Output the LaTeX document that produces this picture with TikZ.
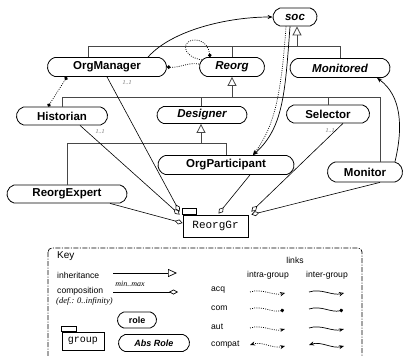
\documentclass[tikz,border=0pt]{standalone}
\usepackage{fontspec}
\setmainfont{Liberation Sans}
\setmonofont{Liberation Mono}
\newfontfamily\ltimes{Liberation Serif}
\usetikzlibrary{arrows.meta,shapes.misc}

\begin{document}
\begin{tikzpicture}[x=1pt,y=-1pt,
  role/.style={draw, line width=0.8pt, rounded rectangle, rounded rectangle arc length=150,
    inner sep=0pt, minimum height=19pt, font=\fontsize{11.5}{13}\selectfont\bfseries},
  absrole/.style={role, font=\fontsize{11.5}{13}\selectfont\bfseries\itshape},
  grp/.style={draw, line width=0.8pt, inner sep=0pt, fill=white,
    font=\fontsize{11}{13}\selectfont\ttfamily},
  hier/.style={draw=black!72, line width=0.9pt},
  inh/.style={hier, -{Triangle[open,length=9pt,width=9pt,line width=0.8pt]}},
  comp/.style={line width=0.6pt, -{Diamond[open,length=8pt,width=5pt,line width=0.6pt]}},
  mult/.style={font=\fontsize{6}{7}\selectfont\ltimes\itshape, text=black!60, inner sep=0pt},
  inter/.style={line width=0.7pt},
  intra/.style={line width=0.7pt, dash pattern=on 0.9pt off 1.3pt},
  keytext/.style={font=\fontsize{8.6}{10}\selectfont, inner sep=0pt},
  keyital/.style={font=\fontsize{8.5}{10}\selectfont\ltimes\itshape, inner sep=0pt},
  tipacq/.tip={Stealth[open,length=5pt,width=4.5pt,line width=0.6pt]},
  tipaut/.tip={Stealth[length=5pt,width=3.5pt]},
  tipcom/.tip={Circle[length=3.6pt]},
  tipcpt/.tip={Stealth[length=5pt,width=4pt]},
]
\useasboundingbox[fill=white] (0,0) rectangle (403,355);

% ---------- roles ----------
\node[absrole, minimum width=44pt, minimum height=18pt] (soc) at (295,17) {soc};
\node[role, minimum width=119pt] (OrgManager) at (107,67) {OrgManager};
\node[absrole, minimum width=65pt] (Reorg) at (232,67) {Reorg};
\node[absrole, minimum width=100pt] (Monitored) at (340,68) {Monitored};
\node[role, minimum width=91pt, minimum height=18pt] (Historian) at (62,116) {Historian};
\node[absrole, minimum width=90pt, minimum height=17pt] (Designer) at (202,115) {Designer};
\node[role, minimum width=83pt, minimum height=18pt] (Selector) at (328,114) {Selector};
\node[role, minimum width=136pt] (OrgParticipant) at (226,165) {OrgParticipant};
\node[role, minimum width=75pt, minimum height=20pt] (Monitor) at (365,172) {Monitor};
\node[role, minimum width=120pt, minimum height=18pt] (ReorgExpert) at (67,194) {ReorgExpert};

% ---------- group ----------
\node[grp, minimum width=65pt, minimum height=22pt] (ReorgGr) at (215.5,226) {ReorgGr};
\draw[line width=0.7pt, fill=white] (ReorgGr.north west) rectangle ++(14,-6);

% ---------- inheritance ----------
\coordinate (socbar) at (297,46);
\coordinate (reorgbar) at (232,97);
\coordinate (designbar) at (201,143);
\draw[hier] ([xshift=-19pt]OrgManager.north) |- (socbar);
\draw[hier] (Reorg.north) |- (socbar);
\draw[hier] (Monitored.north) |- (socbar);
\draw[inh] (socbar) -- ([xshift=2pt]soc.south);

\draw[hier] (Historian.north) |- (reorgbar);
\draw[hier] ([xshift=-1pt]Designer.north) |- (reorgbar);
\draw[hier] (Selector.north) |- (reorgbar);
\draw[hier] ([xshift=15pt]Monitor.north) |- (reorgbar);
\draw[inh] (reorgbar) -- (Reorg.south);

\draw[hier] (ReorgExpert.north) |- (designbar);
\draw[hier] (OrgParticipant.north) |- (designbar);
\draw[inh] (designbar) -- ([xshift=-1pt]Designer.south);

% ---------- composition into the group ----------
\draw[comp] (OrgManager.south) -- ([xshift=-3pt,yshift=3pt]ReorgGr.north west);
\draw[comp] ([xshift=18pt]Historian.south) -- ([xshift=-3pt,yshift=0pt]ReorgGr.north west);
\draw[comp] ([xshift=43pt]ReorgExpert.south) -- ([yshift=3pt]ReorgGr.west);
\draw[comp] ([xshift=24pt]OrgParticipant.south) -- ([xshift=3pt,yshift=1pt]ReorgGr.north);
\draw[comp] ([xshift=15pt]Selector.south) -- ([xshift=3pt,yshift=3pt]ReorgGr.north east);
\draw[comp] ([xshift=15pt]Monitor.south) -- ([xshift=3pt,yshift=0pt]ReorgGr.north east);

\node[mult] (m1) at (127,83) {1..1};
\node[mult] (m2) at (100,132) {1..1};
\node[mult] (m3) at (330,131) {1..1};

% ---------- links ----------
\draw[inter, -tipcpt] ([xshift=41pt]OrgManager.north) .. controls (172,30) and (228,17) .. (soc.west);
\draw[intra, -tipcom] ([xshift=-30pt,yshift=7pt]Reorg.center) .. controls (180,56) and (182,39) .. (196,40)
  .. controls (205,41) and (209,48) .. ([xshift=-22pt]Reorg.north);
\draw[intra, -tipcom] ([yshift=3pt]Reorg.west) .. controls (188,62) and (180,68) .. (OrgManager.east);
\draw[intra, tipcom-tipcom] ([xshift=-40pt]OrgManager.south) -- ([xshift=-14pt]Historian.north);
\draw[inter, -tipcpt] ([xshift=-5pt]soc.south) .. controls (285,95) and (283,128) .. ([xshift=27pt]OrgParticipant.north);
\draw[intra, -tipcpt] ([xshift=-9pt]soc.south) .. controls (281,100) and (273,128) .. ([xshift=27pt]OrgParticipant.north);
\draw[inter, -tipcpt] ([xshift=30pt]Monitor.north) .. controls (403,128) and (402,96) .. ([xshift=37pt]Monitored.south);

% ---------- key ----------
\draw[line width=0.7pt, dash pattern=on 5pt off 1.5pt on 1pt off 1.5pt, rounded corners=4pt]
  (48,248) rectangle (362,368);
\node[keytext, anchor=west, font=\fontsize{10}{12}\selectfont] (keyt) at (57,256) {Key};
\node[keytext] (links) at (295,260) {links};
\node[keytext] (intrat) at (268,275) {intra-group};
\node[keytext] (intert) at (327,275) {inter-group};

\node[keytext, anchor=west] (inht) at (57,275) {inheritance};
\coordinate (inhA) at (113,273);
\coordinate (inhB) at (177,273);
\draw[line width=0.7pt, -{Triangle[open,length=9pt,width=8pt,line width=0.7pt]}] (inhA) -- (inhB);

\node[keytext, anchor=west] (compt) at (57,291) {composition};
\node[keyital, anchor=west] (deft) at (56,301) {(def.: 0..infinity)};
\node[keyital, font=\fontsize{8}{10}\selectfont\ltimes\itshape] (mmt) at (130,284) {min..max};
\coordinate (compA) at (113,292);
\coordinate (compB) at (178,292);
\draw[line width=0.7pt, -{Diamond[open,length=9pt,width=5pt,line width=0.7pt]}] (compA) -- (compB);

\node[grp, minimum width=42pt, minimum height=18pt, font=\fontsize{10}{12}\selectfont\ttfamily] (grpkey) at (83,341) {group};
\draw[line width=0.7pt] (grpkey.north west) rectangle ++(15,-5);

\node[role, minimum width=39pt, minimum height=16pt, font=\fontsize{9}{11}\selectfont\bfseries] (rolekey) at (137,320) {role};
\node[absrole, minimum width=71pt, minimum height=17pt, font=\fontsize{9}{11}\selectfont\bfseries\itshape] (abskey) at (154,343) {Abs Role};

\node[keytext, anchor=west] (acqt) at (211,290) {acq};
\node[keytext, anchor=west] (comt) at (211,308) {com};
\node[keytext, anchor=west] (autt) at (211,327) {aut};
\node[keytext, anchor=west] (cptt) at (211,345) {compat};

\coordinate (acqIa) at (250,292); \coordinate (acqIb) at (285,293);
\coordinate (acqEa) at (309,292); \coordinate (acqEb) at (344,293);
\coordinate (comIa) at (250,309); \coordinate (comIb) at (284,310);
\coordinate (comEa) at (309,309); \coordinate (comEb) at (343,310);
\coordinate (autIa) at (250,328); \coordinate (autIb) at (285,329);
\coordinate (autEa) at (309,328); \coordinate (autEb) at (344,329);
\coordinate (cptIa) at (250,345); \coordinate (cptIb) at (285,346);
\coordinate (cptEa) at (309,345); \coordinate (cptEb) at (344,346);

\draw[intra, -tipacq] (acqIa) .. controls +(12,-4) and +(-12,3) .. (acqIb);
\draw[inter, -tipacq] (acqEa) .. controls +(12,-4) and +(-12,3) .. (acqEb);
\draw[intra, -tipcom] (comIa) .. controls +(12,-4) and +(-12,3) .. (comIb);
\draw[inter, -tipcom] (comEa) .. controls +(12,-4) and +(-12,3) .. (comEb);
\draw[intra, -tipaut] (autIa) .. controls +(12,-4) and +(-12,3) .. (autIb);
\draw[inter, -tipaut] (autEa) .. controls +(12,-4) and +(-12,3) .. (autEb);
\draw[intra, tipcpt-tipcpt] (cptIa) .. controls +(12,-4) and +(-12,3) .. (cptIb);
\draw[inter, tipcpt-tipcpt] (cptEa) .. controls +(12,-4) and +(-12,3) .. (cptEb);
\end{tikzpicture}
\end{document}
